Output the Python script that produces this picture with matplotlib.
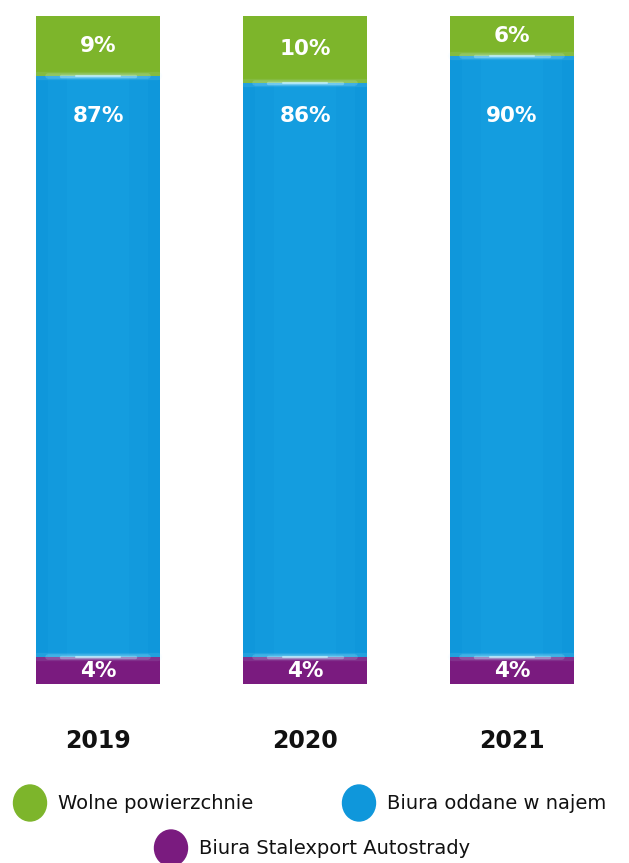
import numpy as np
import matplotlib.pyplot as plt
from matplotlib.patches import Ellipse

years = ["2019", "2020", "2021"]
vacant = [9, 10, 6]        # Wolne powierzchnie
leased = [87, 86, 90]      # Biura oddane w najem
own = [4, 4, 4]            # Biura Stalexport Autostrady
legend_labels = ["Wolne powierzchnie", "Biura oddane w najem", "Biura Stalexport Autostrady"]

GREEN = "#7db52b"
BLUE = "#0f97db"
PURPLE = "#7a1b7f"
FONT = "DejaVu Sans"

W, H = 629, 863
fig = plt.figure(figsize=(W / 100, H / 100), dpi=100)
fig.patch.set_facecolor("white")

# bars axes, placed in pixel terms
top_px, bot_px = 16, 684
ax = fig.add_axes([0, 1 - bot_px / H, 1, (bot_px - top_px) / H])
spacing = 207
c0 = 98
ax.set_xlim(-c0 / spacing, (W - c0) / spacing)
ax.set_ylim(0, 100)
ax.axis("off")

x = np.arange(len(years))
bw = 124 / spacing
own_a = np.array(own)
leased_a = np.array(leased)
vacant_a = np.array(vacant)

ax.bar(x, own_a, bw, color=PURPLE)
ax.bar(x, leased_a, bw, bottom=own_a, color=BLUE)
ax.bar(x, vacant_a, bw, bottom=own_a + leased_a, color=GREEN)

# soft lighter band in the blue part
for xi, o, l in zip(x, own_a, leased_a):
    for frac, a in [(0.8, 0.12), (0.5, 0.12)]:
        ax.bar(xi, l, bw * frac, bottom=o, color="#29b3f2", alpha=a, linewidth=0)

# glow at segment boundaries, brighter toward the middle
for xi, o, l in zip(x, own_a, leased_a):
    for y in (o, o + l):
        for half, lw, a in [(0.48, 6, 0.10), (0.40, 4, 0.18), (0.30, 2.5, 0.35), (0.18, 1.5, 0.7)]:
            ax.plot([xi - bw * half, xi + bw * half], [y, y], color="#c8f3ff",
                    lw=lw, alpha=a, solid_capstyle="round")

lab_font = dict(color="white", fontsize=15.5, fontweight="bold", family=FONT,
                ha="center", va="center")
for xi, o, l, v in zip(x, own_a, leased_a, vacant_a):
    ax.text(xi, o / 2, f"{o}%", **lab_font)
    ax.text(xi, 85, f"{l}%", **lab_font)
    ax.text(xi, o + l + v / 2, f"{v}%", **lab_font)

# overlay axes in pixel coordinates for years and legend
ov = fig.add_axes([0, 0, 1, 1], facecolor="none")
ov.set_xlim(0, W)
ov.set_ylim(H, 0)
ov.axis("off")

for xi, yr in zip(x, years):
    px = c0 + xi * spacing
    ov.text(px, 741, yr, fontsize=17, fontweight="bold", family=FONT,
            ha="center", va="center", color="#111111")

legend_items = [
    (30, 803, GREEN, legend_labels[0]),
    (359, 803, BLUE, legend_labels[1]),
    (171, 848, PURPLE, legend_labels[2]),
]
for cx, cy, col, txt in legend_items:
    ov.add_patch(Ellipse((cx, cy), 33, 36, color=col))
    ov.text(cx + 28, cy, txt, fontsize=14, family=FONT, ha="left",
            va="center", color="#111111")

fig.savefig("out.png", dpi=100)
